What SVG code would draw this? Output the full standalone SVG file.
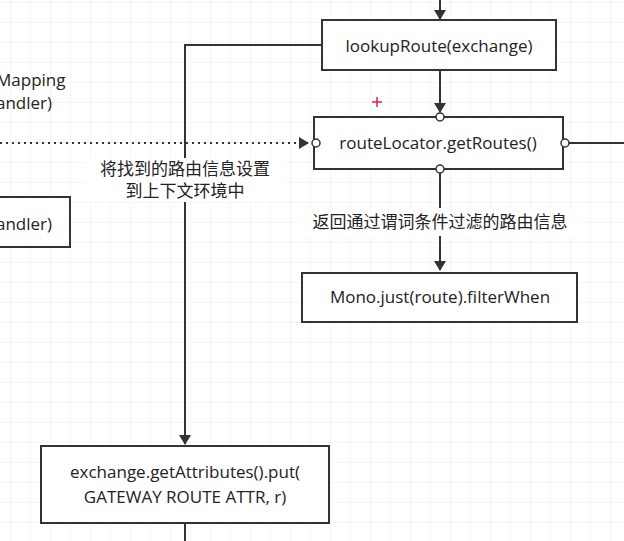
<svg xmlns="http://www.w3.org/2000/svg" width="624" height="541" viewBox="0 0 624 541">
<defs>
<pattern id="g" width="20" height="20" patternUnits="userSpaceOnUse" x="11" y="3"><path d="M20 0V20M0 20H20" fill="none" stroke="#ebebeb" stroke-width="1"/></pattern>
<marker id="a" markerWidth="10" markerHeight="12" refX="9" refY="6" orient="auto" markerUnits="userSpaceOnUse"><path d="M0 0L10 6L0 12z" fill="#333"/></marker>
<style>
.b{fill:#fff;stroke:#333;stroke-width:2}
.t{font-family:"Open Sans","Noto Sans CJK SC",sans-serif;font-size:17px;fill:#222;text-anchor:middle}
.c{fill:none;stroke:#333;stroke-width:2}
.o{fill:#fff;stroke:#333;stroke-width:1.5}
</style>
</defs>
<rect width="624" height="541" fill="#fff"/>
<rect width="624" height="541" fill="url(#g)"/>
<g id="connectors">
<path class="c" d="M440 0V19" marker-end="url(#a)"/>
<path class="c" d="M440 70V112" marker-end="url(#a)"/>
<path class="c" d="M322 45H185V444" marker-end="url(#a)"/>
<path class="c" d="M0 143H308" stroke-dasharray="2 4" marker-end="url(#a)"/>
<path class="c" d="M440 173V270" marker-end="url(#a)"/>
<path class="c" d="M567 143H624"/>
<path class="c" d="M185 523V541"/>
<rect x="86" y="158" width="198" height="44" fill="#fff"/>
<text class="t" x="185" y="175" font-size="16">将找到的路由信息设置</text>
<text class="t" x="185" y="197" font-size="16">到上下文环境中</text>
<rect x="300" y="208" width="280" height="28" fill="#fff"/>
<text class="t" x="440" y="228" font-size="16">返回通过谓词条件过滤的路由信息</text>
</g>
<g id="n-left-text"><text class="t" x="-4" y="86" style="text-anchor:start">Mapping</text><text class="t" x="-4" y="109" style="text-anchor:start">andler)</text></g>
<g id="n-left-box"><rect class="b" x="-10" y="197" width="80" height="50"/><text class="t" x="-4" y="230" style="text-anchor:start">andler)</text></g>
<g id="n-lookup"><rect class="b" x="322" y="20" width="234" height="50"/><text class="t" x="439" y="52">lookupRoute(exchange)</text></g>
<g id="n-routes"><rect class="b" x="314" y="117" width="249" height="52"/><text class="t" x="438" y="149">routeLocator.getRoutes()</text>
<circle class="o" cx="440" cy="117" r="4"/><circle class="o" cx="440" cy="169" r="4"/><circle class="o" cx="316" cy="143" r="4"/><circle class="o" cx="565" cy="143" r="4"/></g>
<g id="n-mono"><rect class="b" x="302" y="273" width="275" height="49"/><text class="t" x="440" y="303">Mono.just(route).filterWhen</text></g>
<g id="n-exchange"><rect class="b" x="41" y="446" width="288" height="77"/><text class="t" x="185" y="478">exchange.getAttributes().put(</text><text class="t" x="185" y="503">GATEWAY ROUTE ATTR, r)</text></g>
<path d="M372 102H382M377 97V107" stroke="#e0204a" stroke-width="1.5"/>
</svg>
